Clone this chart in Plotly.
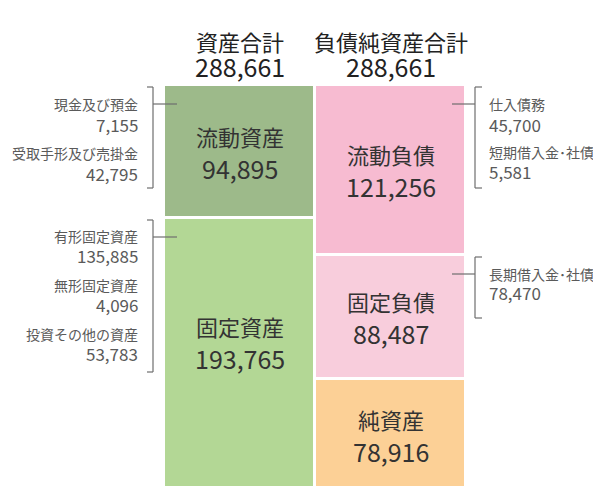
import plotly.graph_objects as go

# ---- data ----
columns = ["資産", "負債純資産"]
header_names = ["資産合計", "負債純資産合計"]
header_values = [288661, 288661]

asset_names = ["流動資産", "固定資産"]
asset_values = [94895, 193765]
asset_colors = ["#9dba8a", "#b3d795"]

liab_names = ["流動負債", "固定負債", "純資産"]
liab_values = [121256, 88487, 78916]
liab_colors = ["#f7bbd1", "#f8cddc", "#fcd096"]

left_detail_names = ["現金及び預金", "受取手形及び売掛金", "有形固定資産", "無形固定資産", "投資その他の資産"]
left_detail_values = [7155, 42795, 135885, 4096, 53783]
right_detail_names = ["仕入債務", "短期借入金･社債", "長期借入金･社債"]
right_detail_values = [45700, 5581, 78470]

FONT = "Noto Sans CJK JP"
OFF = 8  # page body margin of the html page
W, H = 601 - OFF, 486 - OFF
L, R, T, B = 164, 466, 85, 486   # plot area in window pixels
FULL_BOTTOM = 490                # where the stack would end (below the window)


def px(x):
    return (x - L) / (R - L)


def py(y):
    return 1 - (y - T) / (B - T)


fig = go.Figure()
for name, val, col in zip(asset_names, asset_values, asset_colors):
    fig.add_trace(go.Bar(x=[0], y=[val], width=1, marker=dict(color=col, line=dict(color="white", width=3)),
                         name=name, hoverinfo="skip", showlegend=False))
for name, val, col in zip(liab_names, liab_values, liab_colors):
    fig.add_trace(go.Bar(x=[1], y=[val], width=1, marker=dict(color=col, line=dict(color="white", width=3)),
                         name=name, hoverinfo="skip", showlegend=False))

total = sum(asset_values)
y_top = total * (B - T) / (FULL_BOTTOM - T)
ann = []
DARK = "#333333"
GREY = "#5a5a5a"


def box_labels(xi, names, values, shifts):
    cum = 0
    for n, v, s in zip(names, values, shifts):
        mid = cum + v / 2
        cum += v
        ann.append(dict(x=xi, y=mid, xref="x", yref="y", text=n, showarrow=False, yanchor="middle",
                        font=dict(family=FONT, size=22, color=DARK), yshift=16 + s))
        ann.append(dict(x=xi, y=mid, xref="x", yref="y", text=f"{v:,}", showarrow=False, yanchor="middle",
                        font=dict(family=FONT, size=25, color=DARK), yshift=-16 + s))


box_labels(0, asset_names, asset_values, [0, 12])
box_labels(1, liab_names, liab_values, [0, 0, 0])

# headers
for xi, n, v in zip([0, 1], header_names, header_values):
    ann.append(dict(x=xi, y=py(41), xref="x", yref="paper", text=n, showarrow=False, yanchor="middle",
                    font=dict(family=FONT, size=22, color="#222222")))
    ann.append(dict(x=xi, y=py(66), xref="x", yref="paper", text=f"{v:,}", showarrow=False, yanchor="middle",
                    font=dict(family=FONT, size=25, color="#222222")))

# detail labels
left_pos = [(104, 124), (153, 173), (236, 255), (285, 304), (334, 353)]
for n, v, (yn, yv) in zip(left_detail_names, left_detail_values, left_pos):
    ann.append(dict(x=px(140), y=py(yn), xref="paper", yref="paper", text=n, showarrow=False,
                    xanchor="right", yanchor="middle", font=dict(family=FONT, size=14, color=GREY)))
    ann.append(dict(x=px(140), y=py(yv), xref="paper", yref="paper", text=f"{v:,}", showarrow=False,
                    xanchor="right", yanchor="middle", font=dict(family=FONT, size=17, color=GREY)))

right_pos = [(104, 124), (152, 171), (274, 292)]
for n, v, (yn, yv) in zip(right_detail_names, right_detail_values, right_pos):
    ann.append(dict(x=px(487), y=py(yn), xref="paper", yref="paper", text=n, showarrow=False,
                    xanchor="left", yanchor="middle", font=dict(family=FONT, size=14, color=GREY)))
    ann.append(dict(x=px(487), y=py(yv), xref="paper", yref="paper", text=f"{v:,}", showarrow=False,
                    xanchor="left", yanchor="middle", font=dict(family=FONT, size=17, color=GREY)))

# brackets
shapes = []
line = dict(color="#6e6e6e", width=1.2)


def seg(x0, y0, x1, y1):
    shapes.append(dict(type="line", xref="paper", yref="paper", x0=px(x0), y0=py(y0), x1=px(x1), y1=py(y1), line=line))


for top, bot, conn in [(87, 188, 104), (220, 372, 237)]:
    seg(153, top, 153, bot)
    seg(147, top, 153, top)
    seg(147, bot, 153, bot)
    seg(153, conn, 177, conn)
for top, bot, conn in [(87, 188, 104), (257, 318, 274)]:
    seg(475, top, 475, bot)
    seg(475, top, 482, top)
    seg(475, bot, 482, bot)
    seg(452, conn, 475, conn)

fig.update_layout(
    width=W, height=H, barmode="stack", bargap=0,
    margin=dict(l=L - OFF, r=601 - R, t=T - OFF, b=0, pad=0),
    paper_bgcolor="white", plot_bgcolor="white",
    xaxis=dict(range=[-0.5, 1.5], visible=False, fixedrange=True),
    yaxis=dict(range=[y_top, 0], visible=False, fixedrange=True),
    annotations=ann, shapes=shapes, showlegend=False,
)

fig.write_html("out.html")
